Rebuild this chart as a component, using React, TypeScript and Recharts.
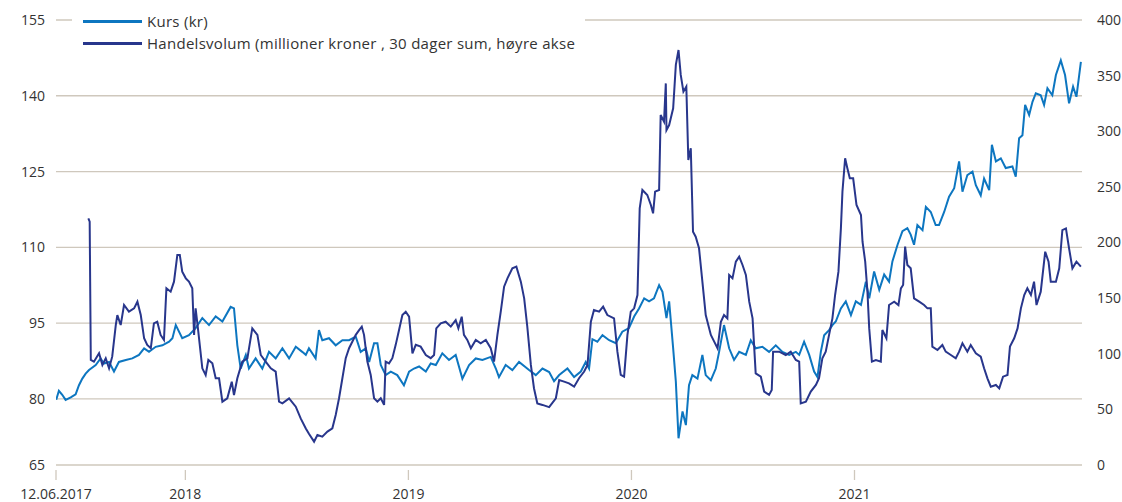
import { LineChart, Line, XAxis, YAxis, CartesianGrid } from "recharts"

// dates as decimal years
const kursDates = [
  2017.421, 2017.433, 2017.448, 2017.463, 2017.486, 2017.508, 2017.523, 2017.538, 2017.553, 2017.568,
  2017.598, 2017.62, 2017.635, 2017.658, 2017.68, 2017.702, 2017.733, 2017.762, 2017.792, 2017.815,
  2017.837, 2017.867, 2017.897, 2017.927, 2017.942, 2017.957, 2017.986, 2018.016, 2018.046, 2018.076,
  2018.106, 2018.136, 2018.166, 2018.203, 2018.218, 2018.233, 2018.248, 2018.271, 2018.285, 2018.315,
  2018.345, 2018.375, 2018.405, 2018.435, 2018.465, 2018.495, 2018.524, 2018.54, 2018.554, 2018.584,
  2018.599, 2018.614, 2018.644, 2018.674, 2018.704, 2018.734, 2018.764, 2018.786, 2018.809, 2018.824,
  2018.846, 2018.861, 2018.876, 2018.898, 2018.921, 2018.95, 2018.98, 2019.003, 2019.025, 2019.048,
  2019.078, 2019.1, 2019.123, 2019.152, 2019.182, 2019.212, 2019.242, 2019.272, 2019.302, 2019.332,
  2019.369, 2019.392, 2019.406, 2019.436, 2019.466, 2019.496, 2019.541, 2019.571, 2019.601, 2019.631,
  2019.653, 2019.676, 2019.713, 2019.743, 2019.773, 2019.795, 2019.81, 2019.825, 2019.847, 2019.87,
  2019.9, 2019.93, 2019.959, 2019.989, 2020.012, 2020.034, 2020.057, 2020.079, 2020.101, 2020.124,
  2020.139, 2020.157, 2020.169, 2020.187, 2020.199, 2020.211, 2020.229, 2020.244, 2020.258, 2020.273,
  2020.296, 2020.318, 2020.333, 2020.356, 2020.378, 2020.393, 2020.415, 2020.438, 2020.46, 2020.483,
  2020.513, 2020.535, 2020.557, 2020.587, 2020.617, 2020.647, 2020.677, 2020.707, 2020.737, 2020.752,
  2020.774, 2020.797, 2020.819, 2020.834, 2020.849, 2020.864, 2020.886, 2020.901, 2020.916, 2020.939,
  2020.961, 2020.984, 2021.006, 2021.029, 2021.051, 2021.066, 2021.088, 2021.111, 2021.133, 2021.155,
  2021.17, 2021.193, 2021.215, 2021.237, 2021.252, 2021.267, 2021.282, 2021.305, 2021.32, 2021.342,
  2021.364, 2021.379, 2021.402, 2021.424, 2021.447, 2021.469, 2021.484, 2021.506, 2021.529, 2021.544,
  2021.566, 2021.581, 2021.604, 2021.616, 2021.634, 2021.656, 2021.678, 2021.708, 2021.723, 2021.738,
  2021.753, 2021.765, 2021.783, 2021.798, 2021.813, 2021.835, 2021.85, 2021.865, 2021.887, 2021.903,
  2021.925, 2021.944, 2021.962, 2021.98, 2021.995, 2022.015,
]

const kursValues = [
  79.8, 81.6, 80.8, 79.8, 80.3, 80.9, 82.7, 84, 85, 85.7,
  86.7, 88, 87, 87.3, 85.4, 87.3, 87.7, 88, 88.7, 90,
  89.3, 90.3, 90.6, 91.3, 92, 94.6, 92, 92.6, 94, 96,
  94.6, 96.3, 95.3, 98.2, 97.9, 90.6, 86, 88.7, 86, 88,
  86, 89.3, 88, 90, 88, 90.3, 89.3, 88.7, 90, 88,
  93.6, 91.6, 92, 90.6, 91.6, 91.6, 92.3, 89.3, 90, 87.3,
  91, 91, 86.7, 84.7, 85.4, 84.7, 82.7, 85.4, 86, 86.4,
  85.4, 87, 86.7, 89, 87.7, 88.7, 84, 86.7, 88, 87.7,
  88.3, 86, 84.3, 86.7, 85.7, 87.3, 85.7, 84.7, 86, 85.3,
  83.5, 84.7, 86, 84.3, 85.4, 87.3, 86, 91.8, 91.3, 92.6,
  91.6, 91, 93.3, 94, 96.3, 97.9, 99.9, 99.3, 99.9, 102.5,
  101.2, 96, 99.3, 90, 83.4, 72.2, 77.5, 74.8, 82.7, 84.7,
  84, 88.7, 84.7, 83.7, 86, 89.3, 94.6, 90, 87.7, 89.3,
  88.7, 91.6, 90, 90.3, 89.3, 90.6, 89.3, 88.7, 89.3, 88.7,
  91.3, 88.7, 85.4, 84.3, 89.3, 92.6, 93.6, 94.6, 95.3, 97.9,
  99.3, 96.6, 99.3, 98.6, 103.2, 99.9, 105.2, 101.6, 104.6, 103.2,
  107.2, 110.5, 113.2, 113.8, 112.5, 110.5, 114.4, 113.4, 118, 117,
  114.4, 114.4, 117, 120, 121.7, 127, 121, 124.3, 125, 122.3,
  120.3, 123.6, 121.3, 130.3, 127, 127.6, 125.7, 126, 124, 131.6,
  132.2, 138.2, 136.2, 138.8, 140.5, 140.1, 138.2, 141.5, 140.1, 144.1,
  147, 144.1, 138.5, 141.8, 139.8, 146.7,
]

const volumeDates = [
  2017.565, 2017.571, 2017.576, 2017.59, 2017.613, 2017.628, 2017.643, 2017.658, 2017.672, 2017.688,
  2017.695, 2017.71, 2017.725, 2017.747, 2017.77, 2017.785, 2017.8, 2017.815, 2017.829, 2017.845,
  2017.859, 2017.874, 2017.889, 2017.904, 2017.915, 2017.934, 2017.949, 2017.964, 2017.975, 2017.986,
  2018.002, 2018.016, 2018.031, 2018.039, 2018.046, 2018.058, 2018.076, 2018.091, 2018.103, 2018.121,
  2018.136, 2018.151, 2018.166, 2018.188, 2018.208, 2018.218, 2018.233, 2018.255, 2018.278, 2018.3,
  2018.323, 2018.338, 2018.36, 2018.383, 2018.405, 2018.42, 2018.435, 2018.465, 2018.495, 2018.517,
  2018.54, 2018.554, 2018.577, 2018.592, 2018.614, 2018.637, 2018.659, 2018.674, 2018.689, 2018.704,
  2018.719, 2018.734, 2018.749, 2018.764, 2018.779, 2018.791, 2018.801, 2018.816, 2018.831, 2018.846,
  2018.861, 2018.876, 2018.891, 2018.898, 2018.913, 2018.928, 2018.943, 2018.958, 2018.973, 2018.988,
  2019.003, 2019.018, 2019.033, 2019.055, 2019.078, 2019.1, 2019.115, 2019.125, 2019.145, 2019.167,
  2019.19, 2019.212, 2019.224, 2019.239, 2019.249, 2019.264, 2019.28, 2019.302, 2019.324, 2019.347,
  2019.369, 2019.384, 2019.399, 2019.414, 2019.429, 2019.444, 2019.466, 2019.484, 2019.504, 2019.519,
  2019.533, 2019.549, 2019.563, 2019.578, 2019.601, 2019.631, 2019.661, 2019.676, 2019.698, 2019.72,
  2019.743, 2019.765, 2019.788, 2019.803, 2019.818, 2019.832, 2019.855, 2019.873, 2019.892, 2019.922,
  2019.937, 2019.952, 2019.967, 2019.982, 2019.997, 2020.012, 2020.027, 2020.037, 2020.049, 2020.071,
  2020.087, 2020.097, 2020.106, 2020.124, 2020.131, 2020.146, 2020.154, 2020.157, 2020.169, 2020.187,
  2020.199, 2020.211, 2020.221, 2020.233, 2020.246, 2020.255, 2020.266, 2020.276, 2020.288, 2020.303,
  2020.318, 2020.333, 2020.356, 2020.371, 2020.386, 2020.401, 2020.415, 2020.43, 2020.438, 2020.453,
  2020.468, 2020.483, 2020.498, 2020.513, 2020.528, 2020.543, 2020.557, 2020.58, 2020.595, 2020.617,
  2020.629, 2020.635, 2020.662, 2020.692, 2020.714, 2020.737, 2020.752, 2020.759, 2020.782, 2020.804,
  2020.827, 2020.841, 2020.856, 2020.871, 2020.886, 2020.901, 2020.913, 2020.928, 2020.939, 2020.946,
  2020.958, 2020.968, 2020.979, 2020.994, 2021.009, 2021.029, 2021.036, 2021.048, 2021.058, 2021.066,
  2021.078, 2021.096, 2021.118, 2021.125, 2021.143, 2021.155, 2021.178, 2021.197, 2021.208, 2021.218,
  2021.227, 2021.237, 2021.252, 2021.267, 2021.29, 2021.312, 2021.327, 2021.342, 2021.349, 2021.372,
  2021.394, 2021.409, 2021.432, 2021.454, 2021.469, 2021.484, 2021.506, 2021.521, 2021.544, 2021.566,
  2021.581, 2021.596, 2021.611, 2021.634, 2021.649, 2021.666, 2021.686, 2021.697, 2021.716, 2021.731,
  2021.746, 2021.761, 2021.775, 2021.791, 2021.805, 2021.816, 2021.835, 2021.855, 2021.87, 2021.88,
  2021.903, 2021.918, 2021.932, 2021.948, 2021.962, 2021.977, 2021.995, 2022.015,
]

const volumeValues = [
  221.7, 218.7, 94.4, 92.9, 100.4, 89.9, 95.9, 86.9, 97.4, 125.8,
  134.8, 125.8, 143.8, 137.8, 140.8, 146.8, 134.8, 113.9, 107.9, 104.9,
  127.3, 128.8, 116.9, 112.4, 158.8, 155.8, 164.8, 188.8, 188.8, 173.8,
  167.8, 164.8, 158.8, 116.9, 140.8, 119.8, 86.9, 80.9, 94.4, 91.4,
  77.9, 77.9, 56.9, 59.9, 74.9, 62.9, 77.9, 92.9, 95.9, 122.8,
  116.9, 98.9, 92.9, 86.9, 83.9, 56.9, 55.4, 59.9, 52.4, 41.9,
  32.9, 28, 21, 27, 25.5, 30, 33, 45, 60, 78,
  96, 105, 111, 117, 121.3, 124.4, 117, 93, 81, 60,
  57, 60, 54, 93, 91.4, 96, 108, 121.3, 134.8, 137.8,
  133.3, 100.4, 108, 106.4, 98.9, 96, 98.9, 122.8, 127.3, 128.8,
  124.4, 130.3, 122.8, 133.3, 117, 112.4, 105, 112.4, 109.4, 112.4,
  105, 93, 117, 137.8, 160.3, 167.8, 176.8, 178.3, 164.8, 149.8,
  124.4, 90, 69, 55.4, 54, 52, 60, 76.4, 74.9, 73.4,
  70.4, 78, 84, 90, 128.8, 139.3, 137.8, 142.3, 134.8, 131.8,
  101.9, 81, 79.4, 117, 137.8, 140.8, 152.8, 230.7, 247.2, 242.7,
  233.7, 226.2, 245.7, 247.2, 314.6, 308.6, 343, 301.1, 305.6, 320.6,
  359.6, 373, 350.6, 335.6, 340.1, 274.2, 284.7, 209.7, 205.2, 194.8,
  164.8, 134.8, 116.9, 110.9, 104.9, 128.8, 134.8, 131.8, 170.8, 167.8,
  182.8, 187.3, 179.8, 170.8, 146.8, 131.8, 82.4, 79.4, 66, 63,
  67.4, 101.9, 101.9, 98.9, 101.9, 94.4, 92.9, 55.4, 57, 66,
  72, 78, 96, 101.9, 117, 131.8, 152.8, 173.8, 212.7, 245.7,
  275.7, 266.7, 257.7, 257.7, 233.7, 224.7, 200.7, 182.8, 155.8, 122.8,
  92.9, 94.4, 92.9, 121.3, 113.9, 143.8, 146.8, 143.8, 158.8, 161.8,
  196.3, 179.8, 176.8, 149.8, 146.8, 143.8, 140.8, 140.8, 106.4, 103.4,
  107.9, 101.9, 98.9, 95.9, 101.9, 109.4, 101.9, 107.9, 100.4, 97.4,
  86.9, 77.9, 70.4, 71.9, 68.9, 79.4, 80.9, 106.4, 113.9, 122.8,
  140.8, 152.8, 158.8, 152.8, 164.8, 143.8, 155.8, 191.7, 182.8, 164.8,
  164.8, 176.8, 211.2, 212.7, 194.8, 176.8, 182.8, 178.3,
]

const xTicks = [2017.42, 2018, 2019, 2020, 2021]
const xTickLabels = ["12.06.2017", "2018", "2019", "2020", "2021"]
const leftTicks = [66.9, 80, 95, 110, 125, 140, 155]
const leftTickLabels = ["65", "80", "95", "110", "125", "140", "155"]
const rightTicks = [0, 50, 100, 150, 200, 250, 300, 350, 400]

const KURS_COLOR = "#0d76c0"
const VOLUME_COLOR = "#28368c"
const GRID_COLOR = "#cfc8bd"
const TEXT_COLOR = "#333333"
const FONT = "'Open Sans', sans-serif"

const kursData = kursDates.map((t, i) => ({ t, v: kursValues[i] }))
const volumeData = volumeDates.map((t, i) => ({ t, v: volumeValues[i] }))

const legendItems = [
  { label: "Kurs (kr)", color: KURS_COLOR },
  { label: "Handelsvolum (millioner kroner , 30 dager sum, høyre akse", color: VOLUME_COLOR },
]

function labelFor(ticks: number[], labels: string[], value: number) {
  const i = ticks.findIndex((t) => Math.abs(t - value) < 0.001)
  return i >= 0 ? labels[i] : String(value)
}

function DateTick(props: any) {
  const { x, y, payload } = props
  return (
    <g>
      <line x1={x} x2={x} y1={y + 5} y2={y + 15} stroke={GRID_COLOR} strokeWidth={1.3} />
      <text x={x} y={y + 34} textAnchor="middle" fill={TEXT_COLOR} fontSize={14} fontFamily={FONT}>
        {labelFor(xTicks, xTickLabels, payload.value)}
      </text>
    </g>
  )
}

export default function App() {
  return (
    <div style={{ position: "absolute", left: 0, top: 0, width: 1122, height: 502, background: "#fff", fontFamily: FONT }}>
      <LineChart width={1122} height={502} margin={{ top: 20, right: 0, bottom: 0, left: 0 }}>
        <CartesianGrid yAxisId="left" vertical={false} stroke={GRID_COLOR} strokeWidth={1.3} />
        <XAxis
          dataKey="t"
          type="number"
          domain={[2017.42, 2022.02]}
          ticks={xTicks}
          height={37}
          axisLine={false}
          tickLine={false}
          tickSize={0}
          tickMargin={0}
          interval={0}
          tick={<DateTick />}
          allowDataOverflow
        />
        <YAxis
          yAxisId="left"
          width={56}
          domain={[66.9, 155]}
          ticks={leftTicks}
          interval={0}
          axisLine={false}
          tickLine={false}
          tickSize={0}
          tickMargin={11}
          tick={{ fill: TEXT_COLOR, fontSize: 14, fontFamily: FONT }}
          tickFormatter={(v: number) => labelFor(leftTicks, leftTickLabels, v)}
          allowDataOverflow
        />
        <YAxis
          yAxisId="right"
          orientation="right"
          width={40}
          domain={[0, 400]}
          ticks={rightTicks}
          interval={0}
          axisLine={false}
          tickLine={false}
          tickSize={0}
          tickMargin={15}
          tick={{ fill: TEXT_COLOR, fontSize: 14, fontFamily: FONT, textAnchor: "start" }}
        />
        <Line
          yAxisId="left"
          data={kursData}
          dataKey="v"
          type="linear"
          stroke={KURS_COLOR}
          strokeWidth={2}
          dot={false}
          isAnimationActive={false}
        />
        <Line
          yAxisId="right"
          data={volumeData}
          dataKey="v"
          type="linear"
          stroke={VOLUME_COLOR}
          strokeWidth={2}
          dot={false}
          isAnimationActive={false}
        />
      </LineChart>
      <div style={{ position: "absolute", left: 72, top: 8, width: 513, height: 48, background: "#fff" }}>
        {legendItems.map((item, i) => (
          <div key={item.label} style={{ position: "absolute", left: 0, top: 2 + i * 22, height: 22, width: 513 }}>
            <div style={{ position: "absolute", left: 11, top: 10, width: 59, height: 3, background: item.color }} />
            <div
              style={{
                position: "absolute",
                left: 75,
                top: 0,
                lineHeight: "22px",
                fontSize: 15,
                letterSpacing: "0.28px",
                color: TEXT_COLOR,
                whiteSpace: "nowrap",
              }}
            >
              {item.label}
            </div>
          </div>
        ))}
      </div>
    </div>
  )
}
